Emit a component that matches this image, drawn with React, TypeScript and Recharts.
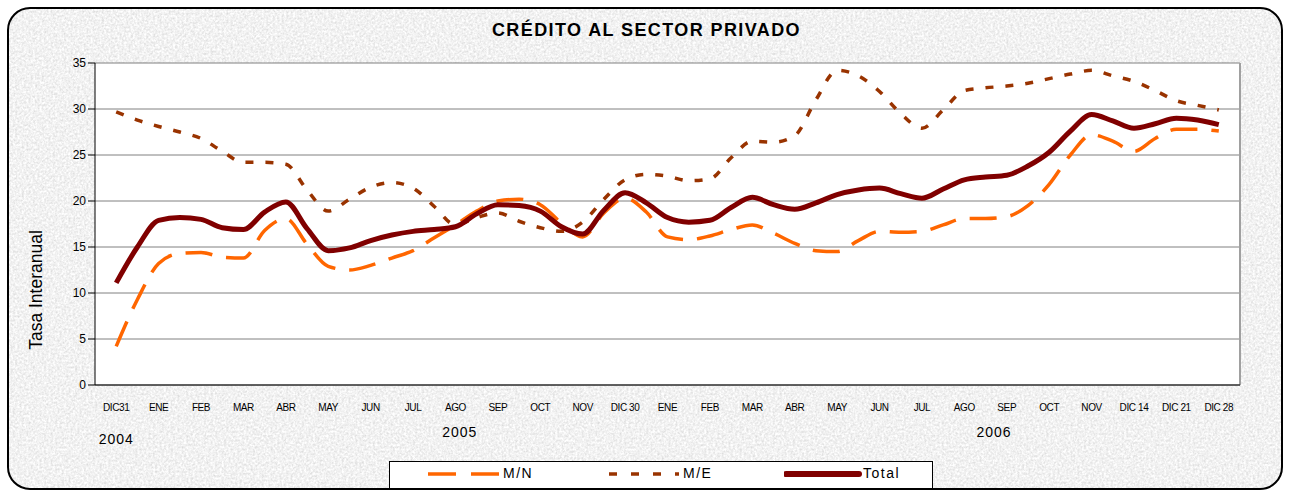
import { CartesianGrid, Line, LineChart, ReferenceLine, XAxis, YAxis } from "recharts";

const FONT = "'Liberation Sans', Arial, sans-serif";

const CATEGORIES = [
  "DIC31", "ENE", "FEB", "MAR", "ABR", "MAY", "JUN", "JUL", "AGO", "SEP", "OCT", "NOV", "DIC 30",
  "ENE", "FEB", "MAR", "ABR", "MAY", "JUN", "JUL", "AGO", "SEP", "OCT", "NOV", "DIC 14", "DIC 21", "DIC 28",
];

const YEARS = ["2004", "2005", "2006"];
const YEAR_POS = [0, 8.1, 20.7];

const Y_TICKS = [0, 5, 10, 15, 20, 25, 30, 35];

// position on the category axis (0 = DIC31, 26 = DIC 28), two readings per category
const X_POS = [
  0, 0.5, 1, 1.5, 2, 2.5, 3, 3.5, 4, 4.5, 5, 5.5, 6, 6.5, 7, 7.5, 8, 8.5, 9, 9.5, 10, 10.5, 11, 11.5, 12, 12.5,
  13, 13.5, 14, 14.5, 15, 15.5, 16, 16.5, 17, 17.5, 18, 18.5, 19, 19.5, 20, 20.5, 21, 21.5, 22, 22.5, 23, 23.5,
  24, 24.5, 25, 25.5, 26,
];

const MN = [
  4.2, 9.3, 13.2, 14.3, 14.4, 13.9, 13.8, 16.8, 18.1, 15.3, 12.9, 12.5, 13.0, 13.8, 14.6, 16.0, 17.4, 18.9,
  20.0, 20.2, 19.6, 17.6, 16.1, 18.7, 20.3, 18.8, 16.1, 15.8, 16.2, 16.9, 17.4, 16.5, 15.4, 14.6, 14.5, 15.7,
  16.7, 16.6, 16.7, 17.4, 18.1, 18.1, 18.3, 19.5, 21.8, 25.0, 27.2, 26.5, 25.4, 26.8, 27.8, 27.8, 27.6,
];

const ME = [
  29.7, 28.8, 28.1, 27.5, 26.8, 25.4, 24.2, 24.2, 24.0, 21.2, 18.9, 20.2, 21.5, 22.0, 21.4, 19.4, 17.4, 18.2,
  18.7, 17.8, 17.1, 16.7, 17.7, 20.2, 22.3, 22.9, 22.7, 22.2, 22.4, 24.7, 26.5, 26.4, 27.1, 31.0, 34.2, 33.6,
  31.9, 29.5, 27.9, 29.9, 32.0, 32.3, 32.5, 32.8, 33.3, 33.8, 34.2, 33.6, 33.0, 32.0, 30.9, 30.4, 29.9,
];

const TOTAL = [
  11.1, 15.0, 17.9, 18.2, 18.0, 17.1, 16.9, 18.8, 19.9, 17.0, 14.6, 14.9, 15.7, 16.3, 16.7, 16.9, 17.2, 18.6,
  19.6, 19.5, 18.9, 17.2, 16.4, 19.0, 20.9, 19.8, 18.2, 17.7, 17.9, 19.3, 20.4, 19.6, 19.1, 19.8, 20.7, 21.2,
  21.4, 20.8, 20.3, 21.3, 22.3, 22.6, 22.8, 23.8, 25.3, 27.6, 29.4, 28.7, 27.9, 28.4, 29.0, 28.8, 28.3,
];

const COLORS = { mn: "#ff6600", me: "#993300", total: "#800000" };

const DOMAIN: [number, number] = [-0.5, CATEGORIES.length - 0.5];
const CAT_TICKS = CATEGORIES.map((_, i) => i);
const BOUND_TICKS = [...CATEGORIES.map((_, i) => i - 0.5), CATEGORIES.length - 0.5];

function CategoryTick({ x, y, payload }: any) {
  return (
    <text x={x} y={y} dy={18} textAnchor="middle" fontSize={10} fill="#000" letterSpacing={-0.4}>
      {CATEGORIES[payload.value]}
    </text>
  );
}

function YearTick({ x, y, index }: any) {
  return (
    <text x={x} y={y} dy={index === 0 ? 21 : 14} textAnchor="middle" fontSize={14} fill="#000" letterSpacing={1}>
      {YEARS[index]}
    </text>
  );
}

function LegendItem({ left, color, width, dash, label, textLeft }: any) {
  return (
    <>
      <svg style={{ position: "absolute", left, top: 4 }} width={textLeft - left} height={16}>
        <line x1={2} x2={textLeft - left - 4} y1={8} y2={8} stroke={color} strokeWidth={width} strokeDasharray={dash} strokeLinecap={dash ? "butt" : "round"} />
      </svg>
      <span style={{ position: "absolute", left: textLeft, top: 3, fontSize: 14, letterSpacing: 1.5 }}>{label}</span>
    </>
  );
}

// speckled grey card behind the chart
function Frame() {
  return (
    <svg style={{ position: "absolute", left: 0, top: 0 }} width={1289} height={492}>
      <defs>
        <filter id="speckle" x="0" y="0" width="100%" height="100%">
          <feTurbulence type="fractalNoise" baseFrequency="0.45" numOctaves={3} seed={4} />
          <feColorMatrix type="matrix" values="0.45 0 0 0 0.66  0.45 0 0 0 0.66  0.45 0 0 0 0.66  0 0 0 0 1" />
          <feComposite in2="SourceGraphic" operator="in" />
        </filter>
      </defs>
      <rect x={8} y={8} width={1274} height={481} rx={22} fill="#e2e2e2" filter="url(#speckle)" />
      <rect x={8} y={8} width={1274} height={481} rx={22} fill="none" stroke="#000" strokeWidth={2} />
    </svg>
  );
}

export default function App() {
  const rows = X_POS.map((x, i) => ({ x, mn: MN[i], me: ME[i], total: TOTAL[i] }));

  return (
    <div style={{ position: "absolute", left: 0, top: 0, width: 1289, height: 492, overflow: "hidden", fontFamily: FONT, color: "#000" }}>
      <Frame />

      <div style={{ position: "absolute", left: 2, top: 20, width: 1289, textAlign: "center", fontSize: 18, fontWeight: "bold", letterSpacing: 1.4 }}>
        CRÉDITO AL SECTOR PRIVADO
      </div>

      <div style={{ position: "absolute", left: -64, top: 279, width: 200, height: 22, lineHeight: "22px", textAlign: "center", fontSize: 17.5, transform: "rotate(-90deg)" }}>
        Tasa Interanual
      </div>

      <div style={{ position: "absolute", left: 0, top: 0 }}>
        <LineChart width={1289} height={492} data={rows} margin={{ top: 63, right: 49, bottom: 31, left: 0 }}>
          <CartesianGrid xAxisId="cat" vertical={false} stroke="#808080" fill="#ffffff" />
          <XAxis xAxisId="bounds" type="number" dataKey="x" domain={DOMAIN} ticks={BOUND_TICKS} tick={false} tickSize={5} height={6} stroke="#000" />
          <XAxis xAxisId="cat" type="number" dataKey="x" domain={DOMAIN} ticks={CAT_TICKS} tick={<CategoryTick />} axisLine={false} tickLine={false} tickSize={0} height={30} interval={0} />
          <XAxis xAxisId="year" type="number" dataKey="x" domain={DOMAIN} ticks={YEAR_POS} tick={<YearTick />} axisLine={false} tickLine={false} tickSize={0} height={40} interval={0} />
          <YAxis domain={[0, 35]} ticks={Y_TICKS} width={95} tickSize={7} stroke="#000" tick={{ fontSize: 12, fill: "#000" }} interval={0} />
          <ReferenceLine xAxisId="cat" x={DOMAIN[1]} stroke="#a0a0a0" strokeWidth={2} />
          <Line xAxisId="cat" type="monotone" dataKey="mn" stroke={COLORS.mn} strokeWidth={3.5} strokeDasharray="27 14" dot={false} activeDot={false} isAnimationActive={false} />
          <Line xAxisId="cat" type="monotone" dataKey="me" stroke={COLORS.me} strokeWidth={3.5} strokeDasharray="8 12" dot={false} activeDot={false} isAnimationActive={false} />
          <Line xAxisId="cat" type="monotone" dataKey="total" stroke={COLORS.total} strokeWidth={5} dot={false} activeDot={false} isAnimationActive={false} />
        </LineChart>
      </div>

      <div style={{ position: "absolute", left: 389, top: 461, width: 542, height: 26, border: "1px solid #000", background: "#fff" }}>
        <LegendItem left={36} color={COLORS.mn} width={3.5} dash="28 15" label="M/N" textLeft={113} />
        <LegendItem left={217} color={COLORS.me} width={3.5} dash="8 14" label="M/E" textLeft={293} />
        <LegendItem left={394} color={COLORS.total} width={6} label="Total" textLeft={473} />
      </div>
    </div>
  );
}
